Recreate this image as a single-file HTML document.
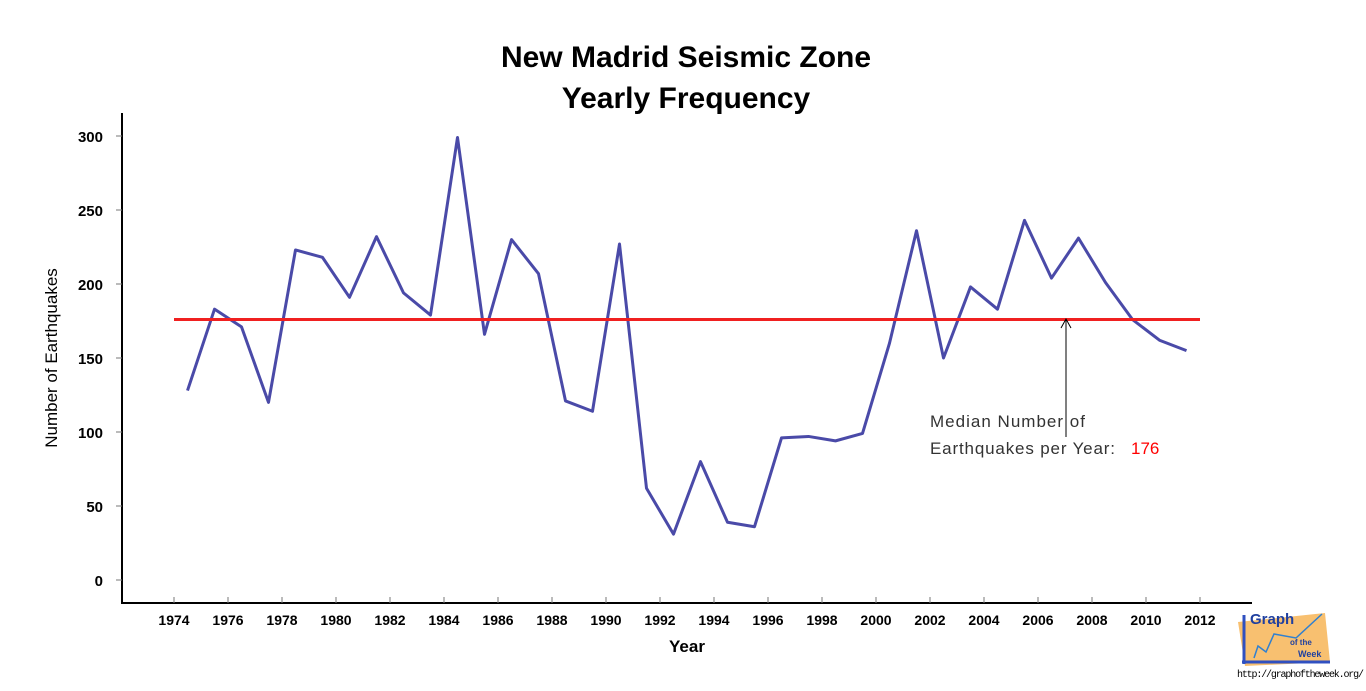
<!DOCTYPE html>
<html><head><meta charset="utf-8"><style>
body{margin:0;background:#fff;}
svg text{font-family:"Liberation Sans",sans-serif;}
</style></head><body>
<svg id="c" width="1366" height="686">
<text x="686" y="67" text-anchor="middle" font-size="30" font-weight="bold">New Madrid Seismic Zone</text>
<text x="686" y="108" text-anchor="middle" font-size="30" font-weight="bold">Yearly Frequency</text>
<line x1="122" y1="113" x2="122" y2="603" stroke="#000" stroke-width="2"/>
<line x1="121" y1="603" x2="1252" y2="603" stroke="#000" stroke-width="2"/>
<text transform="translate(57,358) rotate(-90)" text-anchor="middle" font-size="17">Number of Earthquakes</text>
<text x="687" y="652" text-anchor="middle" font-size="17" font-weight="bold">Year</text>
<g id="ticks"></g>
<g id="marks"></g>
<line x1="1066" y1="437" x2="1066" y2="320" stroke="#000" stroke-width="1"/>
<path d="M1061,328 L1066,319 L1071,328" fill="none" stroke="#000"/>
<text x="930" y="427" font-size="17" fill="#333" textLength="155">Median Number of</text>
<text x="930" y="454" font-size="17" fill="#333" textLength="185">Earthquakes per Year:</text>
<text x="1131" y="454" font-size="17" fill="#f00">176</text>
<g>
<polygon points="1238,622 1325,613 1330,662 1245,666" fill="#f8c070"/>
<line x1="1244" y1="615" x2="1244" y2="664" stroke="#3050c0" stroke-width="3"/>
<line x1="1242" y1="662" x2="1330" y2="662" stroke="#3050c0" stroke-width="3"/>
<text x="1250" y="624" font-size="15" font-weight="bold" fill="#2040a0">Graph</text>
<text x="1290" y="645" font-size="8" fill="#2040a0" font-weight="bold">of the</text>
<text x="1298" y="657" font-size="9" fill="#2040a0" font-weight="bold">Week</text>
<polyline points="1254,658 1258,646 1266,652 1274,634 1296,638 1322,614" fill="none" stroke="#3080d0" stroke-width="1.5"/>
<text x="1237" y="677" font-size="10" textLength="127" style="font-family:'Liberation Mono',monospace">http://graphoftheweek.org/</text>
</g>
</svg>
<script>
const years=[1974,1975,1976,1977,1978,1979,1980,1981,1982,1983,1984,1985,1986,1987,1988,1989,1990,1991,1992,1993,1994,1995,1996,1997,1998,1999,2000,2001,2002,2003,2004,2005,2006,2007,2008,2009,2010,2011];
const counts=[128,183,171,120,223,218,191,232,194,179,299,166,230,207,121,114,227,62,31,80,39,36,96,97,94,99,160,236,150,198,183,243,204,231,201,176,162,155];
const median=176;
const yTicks=[0,50,100,150,200,250,300];
const xTicks=[1974,1976,1978,1980,1982,1984,1986,1988,1990,1992,1994,1996,1998,2000,2002,2004,2006,2008,2010,2012];
const NS="http://www.w3.org/2000/svg";
const xs=y=>174+(y-1974)*27;
const ys=v=>580-v*1.48;
const tk=document.getElementById('ticks'),mk=document.getElementById('marks');
function el(t,a,p){const e=document.createElementNS(NS,t);for(const k in a)e.setAttribute(k,a[k]);p.appendChild(e);return e;}
yTicks.forEach(v=>{
 const l=el('line',{x1:116,x2:122,y1:ys(v),y2:ys(v),stroke:'#777'},tk);
 
 
 const t=el('text',{x:103,y:ys(v)+6,'text-anchor':'end','font-size':15,'font-weight':'bold'},tk);
 t.textContent=v;
 
 
});
xTicks.forEach(v=>{
 const l=el('line',{x1:xs(v),x2:xs(v),y1:597,y2:603,stroke:'#777'},tk);
 
 
 const t=el('text',{x:xs(v),y:625,'text-anchor':'middle','font-size':14,'font-weight':'bold'},tk);
 t.textContent=v;
 
 
});
const pts=years.map((y,i)=>xs(y+0.5)+','+ys(counts[i])).join(' ');
const pl=el('polyline',{points:pts,fill:'none',stroke:'#4a4aa8','stroke-width':3,'stroke-linejoin':'round'},mk);


const ml=el('line',{x1:xs(1974),x2:xs(2012),y1:ys(median),y2:ys(median),stroke:'#f02020','stroke-width':3},mk);


</script>
</body></html>
